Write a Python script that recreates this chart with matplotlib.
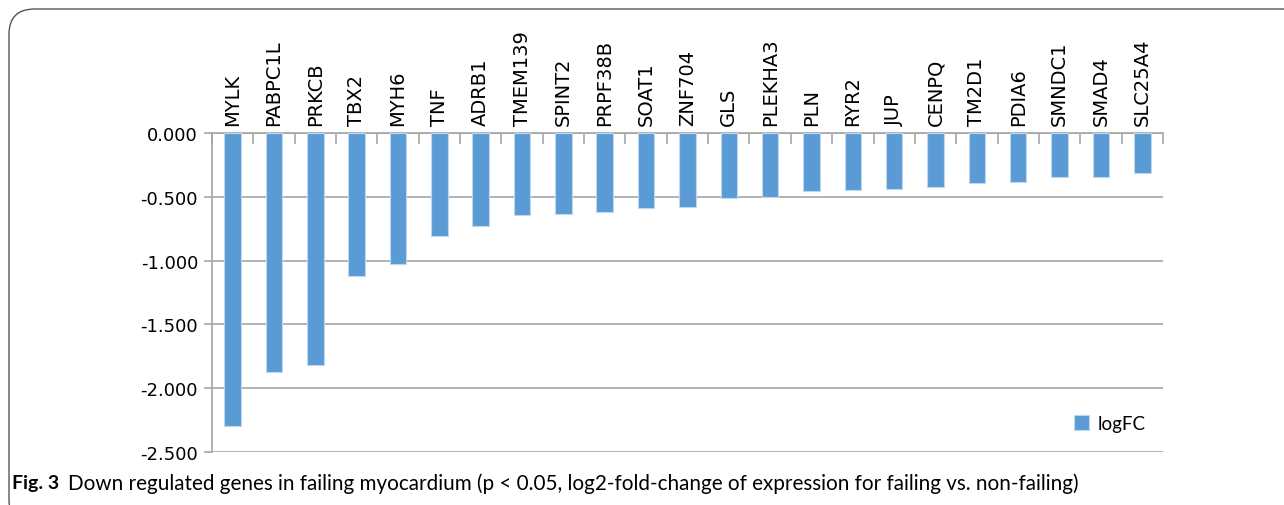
import numpy as np
import matplotlib.pyplot as plt
from matplotlib.patches import FancyBboxPatch

genes = ['MYLK', 'PABPC1L', 'PRKCB', 'TBX2', 'MYH6', 'TNF', 'ADRB1', 'TMEM139',
         'SPINT2', 'PRPF38B', 'SOAT1', 'ZNF704', 'GLS', 'PLEKHA3', 'PLN', 'RYR2',
         'JUP', 'CENPQ', 'TM2D1', 'PDIA6', 'SMNDC1', 'SMAD4', 'SLC25A4']
logfc = [-2.30, -1.87, -1.82, -1.12, -1.03, -0.81, -0.73, -0.64,
         -0.635, -0.62, -0.59, -0.58, -0.51, -0.505, -0.455, -0.447,
         -0.435, -0.427, -0.39, -0.387, -0.343, -0.342, -0.31]
yticks = [0.0, -0.5, -1.0, -1.5, -2.0, -2.5]

plt.rcParams['font.family'] = ['DejaVu Sans']

fig = plt.figure(figsize=(12.84, 5.06), dpi=100)
ax = fig.add_axes([0.1651, 0.1047, 0.7406, 0.6305])

x = np.arange(len(genes))
ax.bar(x, logfc, width=0.4, color='#5b9bd5', edgecolor='#bdd7ee', linewidth=0.8,
       label='logFC', zorder=3)

ax.set_ylim(-2.5, 0)
ax.set_xlim(-0.5, len(genes) - 0.5)
ax.set_yticks(yticks)
ax.set_yticklabels([f'{v:.3f}' for v in yticks], fontsize=13)
ax.yaxis.grid(True, color='#a6a6a6', linewidth=1.2, zorder=0)

# category labels along the zero line (top)
ax.xaxis.tick_top()
ax.set_xticks(x)
ax.set_xticklabels(genes, rotation=90, fontsize=14)
ax.tick_params(axis='x', which='major', length=0, pad=6)
ax.set_xticks(np.arange(-0.5, len(genes), 1.0), minor=True)
ax.tick_params(axis='x', which='minor', direction='in', length=8, color='#a6a6a6', width=1.2, top=True, bottom=False)
ax.tick_params(axis='y', length=6, color='#a6a6a6', width=1.2, pad=4)

for s in ['right', 'bottom']:
    ax.spines[s].set_visible(False)
ax.spines['top'].set_color('#a6a6a6')
ax.spines['top'].set_linewidth(1.2)
ax.spines['left'].set_color('#a6a6a6')
ax.spines['left'].set_linewidth(1.2)

ax.legend(loc='lower right', bbox_to_anchor=(1.0, 0.01), frameon=False,
          prop={'family': 'Lato', 'size': 13.5},
          handlelength=0.8, handleheight=0.8, handletextpad=0.5)

# rounded frame and caption
frame = FancyBboxPatch((9 / 1284, -20 / 506), 1300 / 1284, 516 / 506,
                       boxstyle='round,pad=0,rounding_size=0.02', transform=fig.transFigure,
                       fill=False, edgecolor='#555555', linewidth=1.0, mutation_aspect=2.5)
fig.patches.append(frame)
fig.text(12 / 1284, 1 - 484 / 506, 'Fig. 3', fontsize=14, fontweight='bold', va='center', family='Lato')
fig.text(68 / 1284, 1 - 484 / 506,
         'Down regulated genes in failing myocardium (p < 0.05, log2-fold-change of expression for failing vs. non-failing)',
         fontsize=14.9, va='center', family='Lato')

fig.savefig('out.png', dpi=100)
